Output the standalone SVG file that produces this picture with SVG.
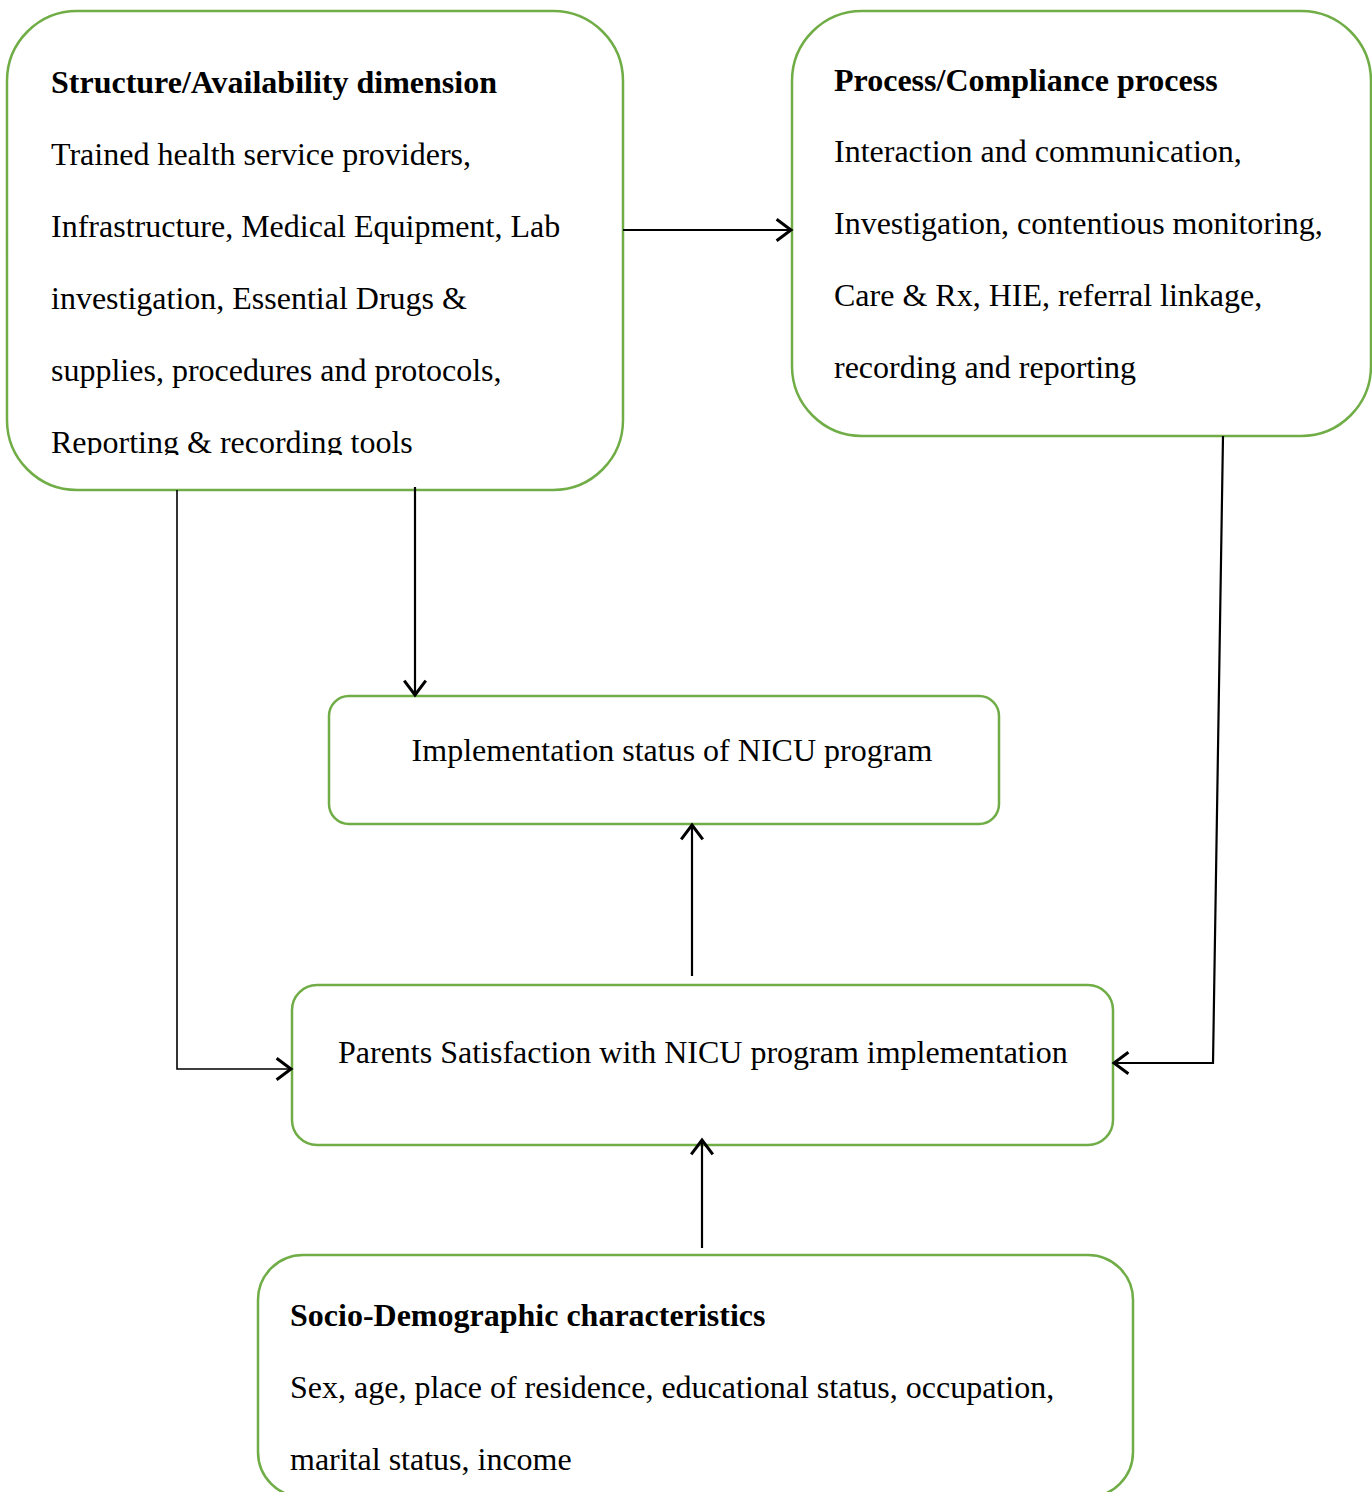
<svg xmlns="http://www.w3.org/2000/svg" width="1372" height="1492" viewBox="0 0 1372 1492">
<style>
.box{fill:#fff;stroke:#70AD47;stroke-width:2.5}
.t{font-family:"Liberation Serif","Times New Roman",serif;font-size:32px;fill:#000}
.b{font-weight:bold}
.c{fill:none;stroke:#000;stroke-width:2.2}
</style>
<defs>
<marker id="ah" markerUnits="userSpaceOnUse" markerWidth="24" markerHeight="24" viewBox="-14 -10 16 20" refX="0" refY="0" orient="auto">
<path d="M-12,-9 L0,0 L-12,9" fill="none" stroke="#000" stroke-width="2.5"/>
</marker>
<clipPath id="clip1"><rect x="0" y="0" width="700" height="455"/></clipPath>
</defs>
<rect width="1372" height="1492" fill="#fff"/>
<g id="node-structure">
<rect class="box" x="7" y="11" width="616" height="479" rx="70"/>
<g clip-path="url(#clip1)">
<text class="t b" x="51" y="93">Structure/Availability dimension</text>
<text class="t" x="51" y="165">Trained health service providers,</text>
<text class="t" x="51" y="237">Infrastructure, Medical Equipment, Lab</text>
<text class="t" x="51" y="309">investigation, Essential Drugs &amp;</text>
<text class="t" x="51" y="381">supplies, procedures and protocols,</text>
<text class="t" x="51" y="453">Reporting &amp; recording tools</text>
</g>
</g>
<g id="node-process">
<rect class="box" x="792" y="11" width="579" height="425" rx="70"/>
<text class="t b" x="834" y="91">Process/Compliance process</text>
<text class="t" x="834" y="162">Interaction and communication,</text>
<text class="t" x="834" y="234">Investigation, contentious monitoring,</text>
<text class="t" x="834" y="306">Care &amp; Rx, HIE, referral linkage,</text>
<text class="t" x="834" y="378">recording and reporting</text>
</g>
<g id="node-implementation">
<rect class="box" x="329" y="696" width="670" height="128" rx="20"/>
<text class="t" x="672" y="761" text-anchor="middle">Implementation status of NICU program</text>
</g>
<g id="node-satisfaction">
<rect class="box" x="292" y="985" width="821" height="160" rx="25"/>
<text class="t" x="338" y="1063">Parents Satisfaction with NICU program implementation</text>
</g>
<g id="node-socio">
<rect class="box" x="258" y="1255" width="875" height="242" rx="45"/>
<text class="t b" x="290" y="1326">Socio-Demographic characteristics</text>
<text class="t" x="290" y="1398">Sex, age, place of residence, educational status, occupation,</text>
<text class="t" x="290" y="1470">marital status, income</text>
</g>
<g id="connectors">
<line class="c" x1="623" y1="230" x2="791" y2="230" marker-end="url(#ah)"/>
<line class="c" x1="415" y1="487" x2="415" y2="695" marker-end="url(#ah)"/>
<polyline class="c" points="177,490 177,1069 291,1069" marker-end="url(#ah)" style="stroke-width:1.6"/>
<polyline class="c" points="1223,436 1213,1063 1114,1063" marker-end="url(#ah)"/>
<line class="c" x1="692" y1="976" x2="692" y2="825" marker-end="url(#ah)"/>
<line class="c" x1="702" y1="1248" x2="702" y2="1140" marker-end="url(#ah)"/>
</g>
</svg>
